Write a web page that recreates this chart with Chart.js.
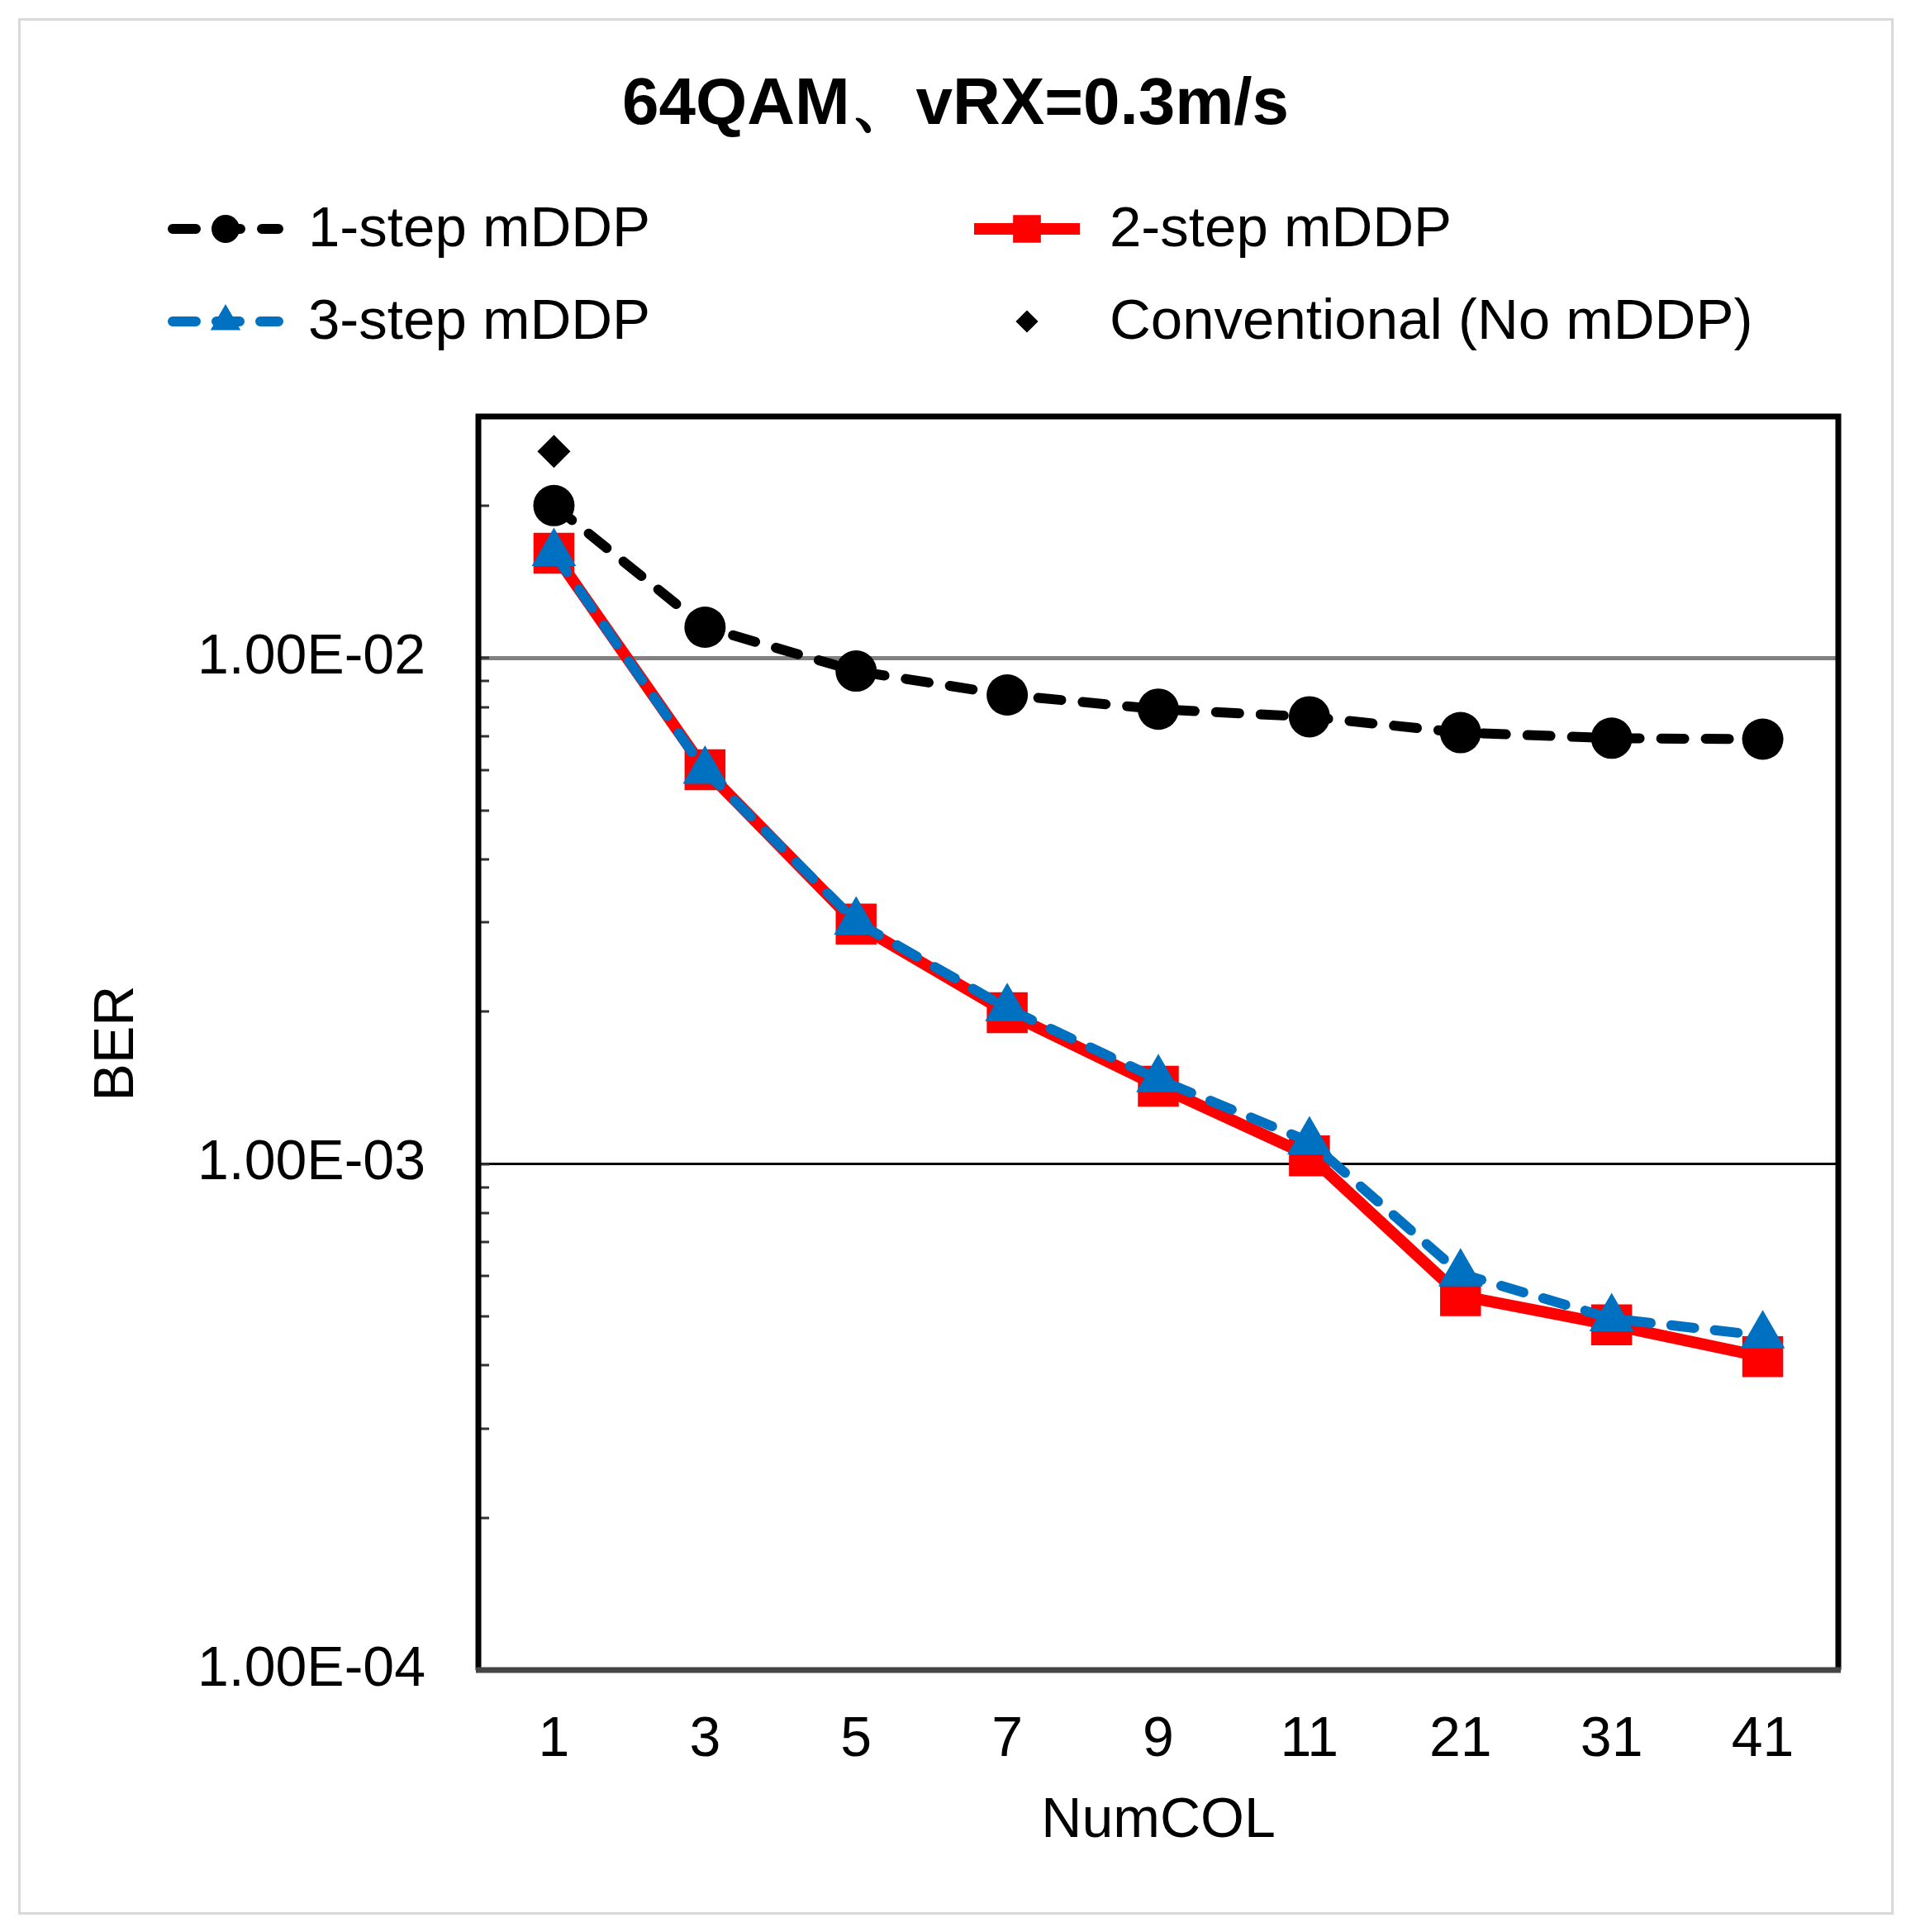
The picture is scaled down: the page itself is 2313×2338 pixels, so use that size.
<!DOCTYPE html>
<html>
<head>
<meta charset="utf-8">
<title>64QAM、vRX=0.3m/s</title>
<script src="https://cdn.jsdelivr.net/npm/chart.js@4.4.1/dist/chart.umd.min.js"></script>
<style>
  html, body { margin: 0; padding: 0; background: #fff; }
  #wrap { position: relative; width: 2313px; height: 2338px; }
  #frame { position: absolute; left: 22px; top: 22px; width: 2264px; height: 2289px; border: 3px solid #d9d9d9; pointer-events: none; }
</style>
</head>
<body>
<div id="wrap">
  <canvas id="berChart" width="2313" height="2338"></canvas>
  <div id="frame"></div>
</div>
<script>
    // values (BER, log axis)
    const numCol = ['1', '3', '5', '7', '9', '11', '21', '31', '41'];
    const step1 = [0.0200, 0.0115, 0.00942, 0.00845, 0.00792, 0.00765, 0.00712, 0.00694, 0.00691];
    const step2 = [0.0161, 0.00601, 0.00298, 0.00199, 0.001425, 0.001038, 0.000549, 0.000481, 0.000416];
    const step3 = [0.0161, 0.00598, 0.00301, 0.00203, 0.00147, 0.001107, 0.000607, 0.000495, 0.000458];
    const conventional = [0.0256, null, null, null, null, null, null, null, null];
    const yTickValues = [1e-4, 1e-3, 1e-2];
    const yTickLabels = ['1.00E-04', '1.00E-03', '1.00E-02'];

    const FONT = '"Liberation Sans", Arial, sans-serif';

    function drawMarker(ctx, style, x, y, r, color) {
        ctx.save();
        ctx.fillStyle = color;
        ctx.beginPath();
        if (style === 'circle') {
            ctx.arc(x, y, r, 0, Math.PI * 2);
        } else if (style === 'rect') {
            const s = r * Math.SQRT1_2;
            ctx.rect(x - s, y - s, 2 * s, 2 * s);
        } else if (style === 'triangle') {
            ctx.moveTo(x, y - r);
            ctx.lineTo(x + r * 0.866, y + r / 2);
            ctx.lineTo(x - r * 0.866, y + r / 2);
            ctx.closePath();
        } else if (style === 'rectRot') {
            ctx.moveTo(x - r, y);
            ctx.lineTo(x, y - r);
            ctx.lineTo(x + r, y);
            ctx.lineTo(x, y + r);
            ctx.closePath();
        }
        ctx.fill();
        ctx.restore();
    }

    // two-column legend like the Excel one
    const twoColLegend = {
        id: 'twoColLegend',
        afterDraw(chart) {
            const ctx = chart.ctx;
            const cols = [203, 1173], rows = [277, 389], sampleW = 140;
            chart.data.datasets.forEach((ds, i) => {
                const x0 = cols[i % 2], y = rows[Math.floor(i / 2)];
                ctx.save();
                if (ds.showLine !== false) {
                    ctx.strokeStyle = ds.borderColor;
                    ctx.lineWidth = ds.borderWidth;
                    ctx.lineCap = ds.borderCapStyle || 'butt';
                    ctx.setLineDash(ds.borderDash || []);
                    ctx.beginPath();
                    ctx.moveTo(x0 + 6, y);
                    ctx.lineTo(x0 + sampleW - 6, y);
                    ctx.stroke();
                }
                ctx.restore();
                drawMarker(ctx, ds.pointStyle, x0 + sampleW / 2, y, ds.pointRadius * 0.68, ds.pointBackgroundColor);
                ctx.save();
                ctx.fillStyle = '#000';
                ctx.font = '69px ' + FONT;
                ctx.textAlign = 'left';
                ctx.textBaseline = 'middle';
                ctx.fillText(ds.label, x0 + 170, y + 2);
                ctx.restore();
            });
        }
    };

    // inside minor ticks on the value axis and the plot frame
    const plotFrame = {
        id: 'plotFrame',
        afterDraw(chart) {
            const ctx = chart.ctx;
            const {left, top, right, bottom} = chart.chartArea;
            const y = chart.scales.y;
            ctx.save();
            ctx.strokeStyle = '#333';
            ctx.lineWidth = 3;
            for (let e = -4; e <= -2; e++) {
                for (let m = 1; m <= 9; m++) {
                    const v = m * Math.pow(10, e);
                    if (v < y.min || v > y.max) continue;
                    const py = Math.round(y.getPixelForValue(v));
                    ctx.beginPath();
                    ctx.moveTo(left, py);
                    ctx.lineTo(left + 13, py);
                    ctx.stroke();
                }
            }
            ctx.lineWidth = 7;
            ctx.strokeStyle = '#000';
            ctx.beginPath();
            ctx.moveTo(left, bottom);
            ctx.lineTo(left, top);
            ctx.lineTo(right, top);
            ctx.lineTo(right, bottom);
            ctx.stroke();
            ctx.strokeStyle = '#454545';
            ctx.beginPath();
            ctx.moveTo(left - 3, bottom);
            ctx.lineTo(right + 3, bottom);
            ctx.stroke();
            ctx.restore();
        }
    };

    const ctx = document.getElementById('berChart').getContext('2d');
    new Chart(ctx, {
        type: 'line',
        data: {
            labels: numCol,
            datasets: [{
                label: '1-step mDDP',
                data: step1,
                borderColor: '#000000',
                backgroundColor: '#000000',
                borderWidth: 12,
                borderDash: [28, 26],
                borderCapStyle: 'round',
                pointStyle: 'circle',
                pointRadius: 25,
                pointBackgroundColor: '#000000',
                pointBorderWidth: 0,
                order: 3
            }, {
                label: '2-step mDDP',
                data: step2,
                borderColor: '#ff0000',
                backgroundColor: '#ff0000',
                borderWidth: 14,
                pointStyle: 'rect',
                pointRadius: 35,
                pointBackgroundColor: '#ff0000',
                pointBorderWidth: 0,
                order: 2
            }, {
                label: '3-step mDDP',
                data: step3,
                borderColor: '#0070c0',
                backgroundColor: '#0070c0',
                borderWidth: 12,
                borderDash: [28, 25],
                borderCapStyle: 'round',
                pointStyle: 'triangle',
                pointRadius: 31,
                pointBackgroundColor: '#0070c0',
                pointBorderWidth: 0,
                order: 1
            }, {
                label: 'Conventional (No mDDP)',
                data: conventional,
                showLine: false,
                borderColor: '#000000',
                backgroundColor: '#000000',
                pointStyle: 'rectRot',
                pointRadius: 20,
                pointBackgroundColor: '#000000',
                pointBorderWidth: 0,
                order: 4
            }]
        },
        options: {
            responsive: false,
            animation: false,
            events: [],
            spanGaps: false,
            layout: { padding: { left: 88, right: 88, top: 0, bottom: 0 } },
            plugins: {
                legend: { display: false },
                tooltip: { enabled: false },
                title: {
                    display: true,
                    text: '64QAM、vRX=0.3m/s',
                    color: '#000',
                    font: { family: FONT, size: 80, weight: 'bold' },
                    padding: { top: 80, bottom: 328 }
                }
            },
            scales: {
                x: {
                    type: 'category',
                    offset: true,
                    grid: { display: false, drawTicks: false },
                    border: { display: false },
                    ticks: { color: '#000', font: { family: FONT, size: 68 }, padding: 44, autoSkip: false, maxRotation: 0 },
                    title: { display: true, text: 'NumCOL', color: '#000', font: { family: FONT, size: 68 }, padding: { top: 0, bottom: 93 } },
                    afterFit: s => { s.height = 317; }
                },
                y: {
                    type: 'logarithmic',
                    min: 1e-4,
                    max: 0.03,
                    afterBuildTicks: s => { s.ticks = yTickValues.map(v => ({ value: v, major: true })); },
                    grid: {
                        drawTicks: false,
                        color: c => c.tick && c.tick.value === 1e-2 ? '#808080' : (c.tick && c.tick.value === 1e-3 ? '#000000' : 'rgba(0,0,0,0)'),
                        lineWidth: c => c.tick && c.tick.value === 1e-2 ? 5 : 3
                    },
                    border: { display: false },
                    ticks: {
                        color: '#000',
                        font: { family: FONT, size: 68 },
                        padding: 64,
                        autoSkip: false,
                        callback: v => { const i = yTickValues.indexOf(v); return i >= 0 ? yTickLabels[i] : ''; }
                    },
                    title: { display: true, text: 'BER', color: '#000', font: { family: FONT, size: 68 }, padding: { top: 13, bottom: 0 } },
                    afterFit: s => { s.width = 491; }
                }
            }
        },
        plugins: [twoColLegend, plotFrame]
    });
</script>
</body>
</html>
